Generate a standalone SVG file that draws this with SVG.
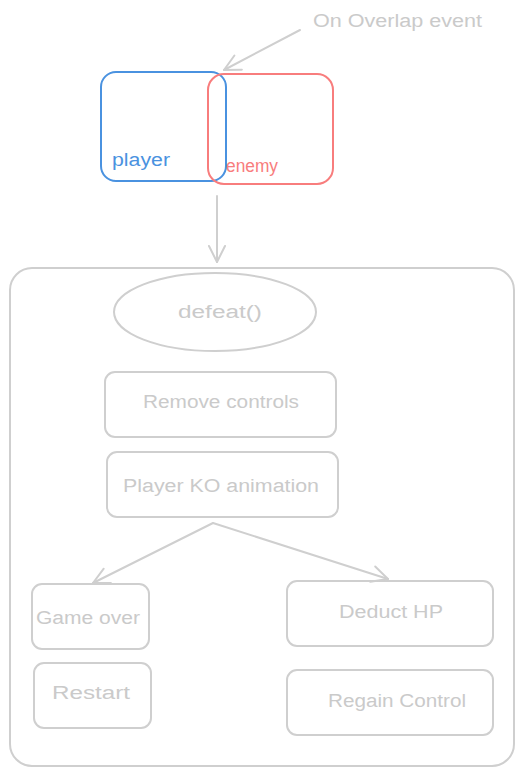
<svg xmlns="http://www.w3.org/2000/svg" width="525" height="776" viewBox="0 0 525 776">
<defs>
<style>
.g{fill:none;stroke:#cfcfcf;stroke-width:2;stroke-linecap:round;stroke-linejoin:round}
.t{font-family:"Liberation Sans","DejaVu Sans",sans-serif;font-size:18px;fill:#cacaca;text-anchor:middle;dominant-baseline:central}
.lbl{font-family:"Liberation Sans","DejaVu Sans",sans-serif;font-size:18px}
</style>
<marker id="ah" viewBox="0 0 20 20" refX="18" refY="10" markerWidth="20" markerHeight="20" markerUnits="userSpaceOnUse" orient="auto">
<path d="M2,2 L18,10 L2,18" fill="none" stroke="#cfcfcf" stroke-width="2" stroke-linecap="round" stroke-linejoin="round"/>
</marker>
</defs>
<rect width="525" height="776" fill="#ffffff"/>

<g id="overlap-label">
<text class="lbl" x="313" y="27" fill="#cacaca" textLength="169" lengthAdjust="spacingAndGlyphs">On Overlap event</text>
</g>

<g id="player">
<rect x="101" y="72" width="125" height="109" rx="15" fill="none" stroke="#4a92e0" stroke-width="2"/>
<text class="lbl" x="112" y="166" fill="#4a92e0" textLength="58" lengthAdjust="spacingAndGlyphs">player</text>
</g>

<g id="enemy">
<rect x="208" y="74" width="125" height="110" rx="16" fill="none" stroke="#f87d7d" stroke-width="2"/>
<text class="lbl" x="226" y="172" fill="#f87d7d" textLength="52" lengthAdjust="spacingAndGlyphs">enemy</text>
</g>

<g id="container">
<rect x="10" y="268" width="504" height="498" rx="22" class="g"/>
</g>

<g id="defeat">
<ellipse cx="215" cy="312" rx="101" ry="39" class="g"/>
<text class="t" x="220" y="312" textLength="84" lengthAdjust="spacingAndGlyphs">defeat()</text>
</g>

<g id="remove-controls">
<rect x="105" y="372" width="231" height="65" rx="10" class="g"/>
<text class="t" x="221" y="402" textLength="156" lengthAdjust="spacingAndGlyphs">Remove controls</text>
</g>

<g id="ko-animation">
<rect x="107" y="452" width="231" height="65" rx="10" class="g"/>
<text class="t" x="221" y="486" textLength="196" lengthAdjust="spacingAndGlyphs">Player KO animation</text>
</g>

<g id="game-over">
<rect x="32" y="584" width="117" height="65" rx="10" class="g"/>
<text class="t" x="88" y="618" textLength="104" lengthAdjust="spacingAndGlyphs">Game over</text>
</g>

<g id="restart">
<rect x="34" y="663" width="117" height="65" rx="10" class="g"/>
<text class="t" x="91" y="693" textLength="78" lengthAdjust="spacingAndGlyphs">Restart</text>
</g>

<g id="deduct-hp">
<rect x="287" y="581" width="206" height="65" rx="10" class="g"/>
<text class="t" x="391" y="612" textLength="104" lengthAdjust="spacingAndGlyphs">Deduct HP</text>
</g>

<g id="regain-control">
<rect x="287" y="670" width="206" height="65" rx="10" class="g"/>
<text class="t" x="397" y="701" textLength="138" lengthAdjust="spacingAndGlyphs">Regain Control</text>
</g>

<g id="connectors">
<path class="g" d="M300,30 L224,70" marker-end="url(#ah)"/>
<path class="g" d="M217,196 L217,262" marker-end="url(#ah)"/>
<path class="g" d="M213,523 L93,583" marker-end="url(#ah)"/>
<path class="g" d="M213,523 L388,579" marker-end="url(#ah)"/>
</g>
</svg>
